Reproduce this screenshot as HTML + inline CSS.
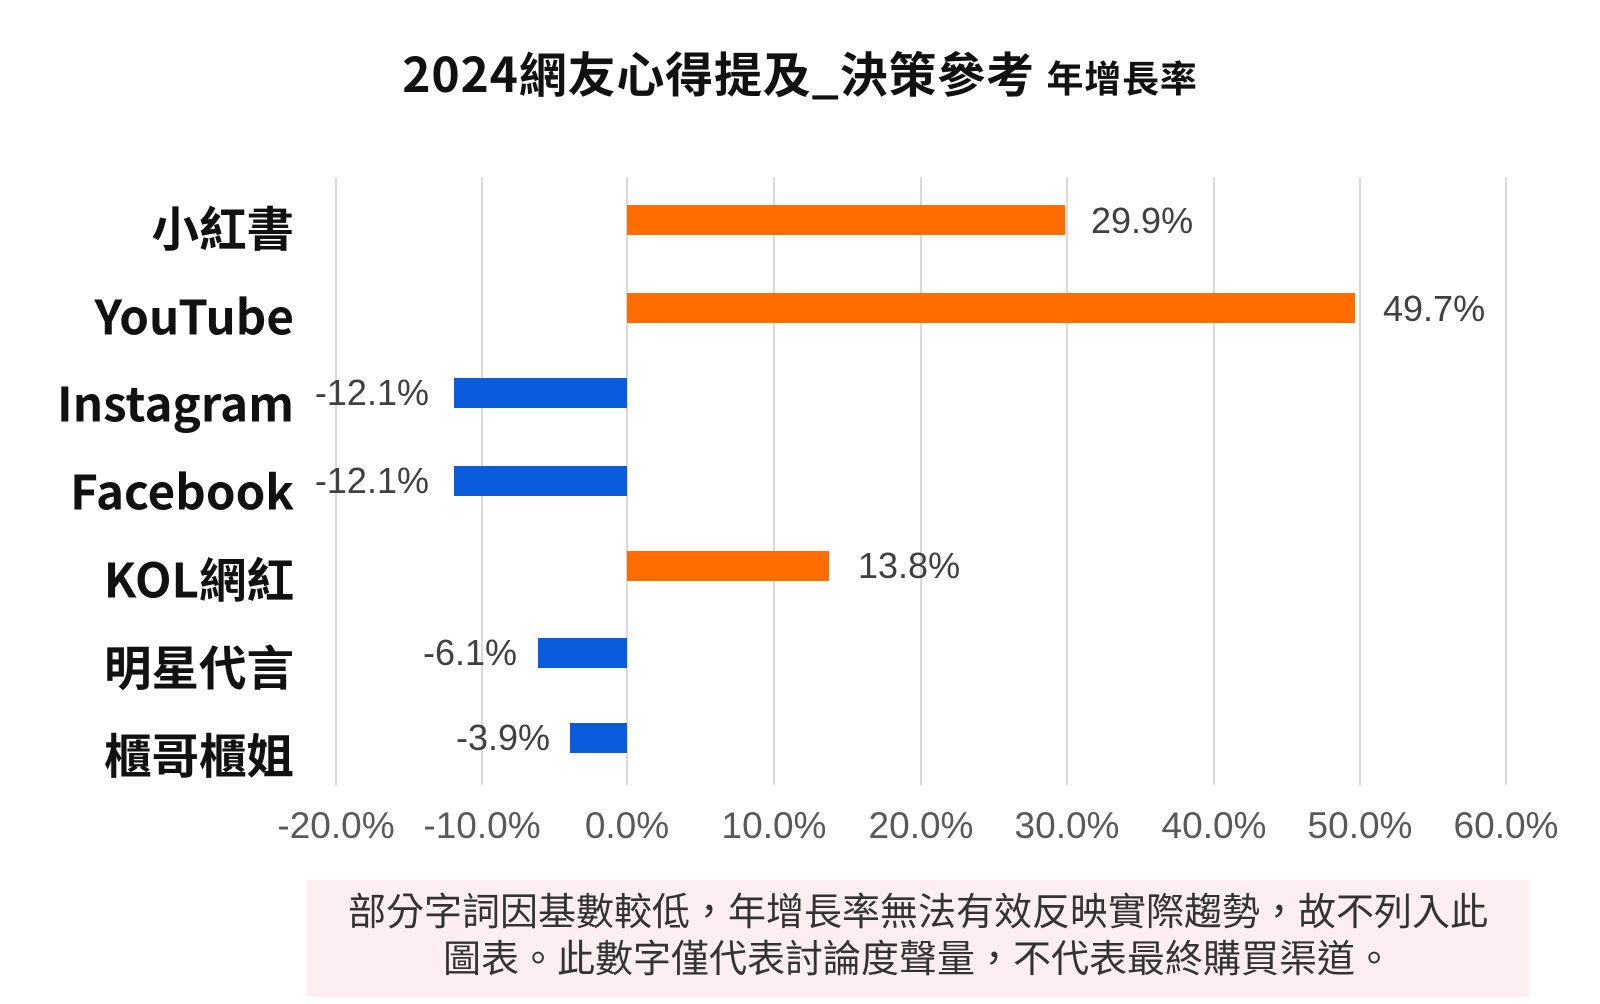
<!DOCTYPE html>
<html><head><meta charset="utf-8"><style>
body{margin:0;background:#fff;width:1600px;height:1004px;overflow:hidden;position:relative;font-family:"Liberation Sans","Noto Sans CJK TC",sans-serif}
.a{position:absolute;white-space:nowrap}
.g{position:absolute;top:177px;height:608px;width:2px;background:#d9d9d9}
.b{position:absolute;height:30px}
.o{background:#ff6d00}.u{background:#0b5cdc}
.c{position:absolute;right:1306px;font-size:47.5px;font-weight:bold;color:#111;transform:translateY(-50%);font-family:"Noto Sans CJK TC",sans-serif;white-space:nowrap}
.v{position:absolute;font-size:36px;color:#404040;transform:translateY(-50%);white-space:nowrap}
.t{position:absolute;top:826px;font-size:37px;color:#595959;transform:translate(-50%,-50%)}
</style></head><body>
<div class="a" style="left:0;width:1600px;text-align:center;top:36px;font-size:48px;font-weight:bold;font-family:'Noto Sans CJK TC',sans-serif;color:#111;letter-spacing:0.8px">2024網友心得提及_決策參考 <span style="font-size:37px">年增長率</span></div>
<div class="g" style="left:335px"></div><div class="g" style="left:481px"></div><div class="g" style="left:626px"></div><div class="g" style="left:773px"></div><div class="g" style="left:920px"></div><div class="g" style="left:1066px"></div><div class="g" style="left:1213px"></div><div class="g" style="left:1359px"></div><div class="g" style="left:1505px"></div>
<div class="b o" style="left:627px;width:438px;top:205px"></div>
<div class="b o" style="left:627px;width:728px;top:293px"></div>
<div class="b u" style="left:454px;width:173px;top:378px"></div>
<div class="b u" style="left:454px;width:173px;top:466px"></div>
<div class="b o" style="left:627px;width:202px;top:551px"></div>
<div class="b u" style="left:538px;width:89px;top:638px"></div>
<div class="b u" style="left:570px;width:57px;top:723px"></div>
<div class="c" style="top:226px">小紅書</div>
<div class="c" style="top:314px">YouTube</div>
<div class="c" style="top:401px">Instagram</div>
<div class="c" style="top:489px">Facebook</div>
<div class="c" style="top:577px">KOL網紅</div>
<div class="c" style="top:665px">明星代言</div>
<div class="c" style="top:753px">櫃哥櫃姐</div>
<div class="v" style="left:1091px;top:221px">29.9%</div>
<div class="v" style="left:1383px;top:309px">49.7%</div>
<div class="v" style="right:1171px;top:393px">-12.1%</div>
<div class="v" style="right:1171px;top:481px">-12.1%</div>
<div class="v" style="left:858px;top:566px">13.8%</div>
<div class="v" style="right:1083px;top:653px">-6.1%</div>
<div class="v" style="right:1050px;top:738px">-3.9%</div>
<div class="t" style="left:336px">-20.0%</div><div class="t" style="left:482px">-10.0%</div><div class="t" style="left:627px">0.0%</div><div class="t" style="left:774px">10.0%</div><div class="t" style="left:921px">20.0%</div><div class="t" style="left:1067px">30.0%</div><div class="t" style="left:1214px">40.0%</div><div class="t" style="left:1360px">50.0%</div><div class="t" style="left:1506px">60.0%</div>
<div class="a" style="left:307px;top:880px;width:1222px;height:117px;background:#fdeef2;text-align:center;font-size:38px;line-height:47px;color:#333;padding-top:10px;box-sizing:border-box;font-family:'Liberation Sans','Noto Sans CJK TC',sans-serif">部分字詞因基數較低，年增長率無法有效反映實際趨勢，故不列入此<br>圖表。此數字僅代表討論度聲量，不代表最終購買渠道。</div>
</body></html>
